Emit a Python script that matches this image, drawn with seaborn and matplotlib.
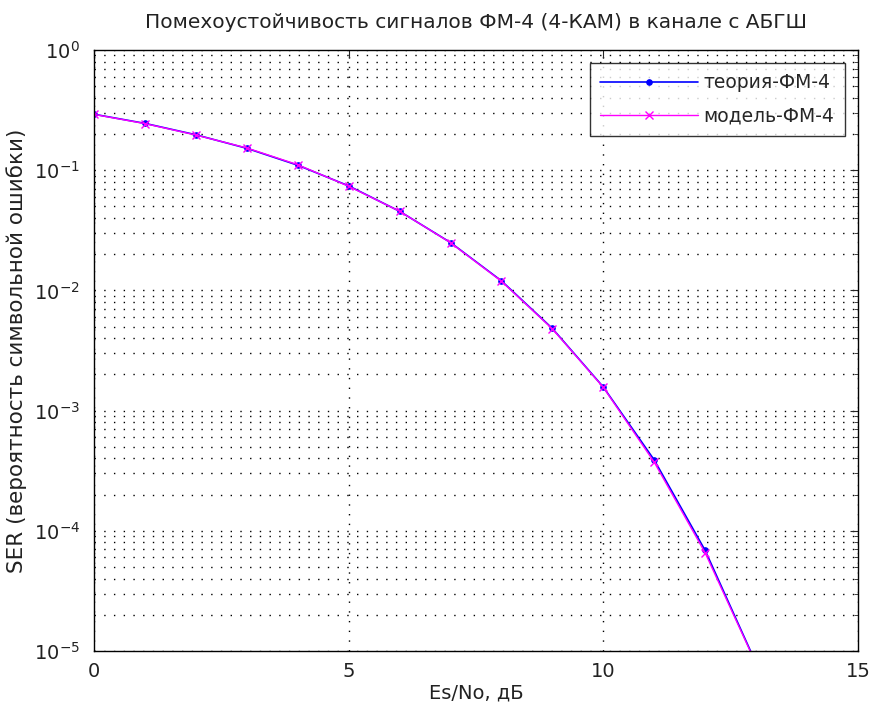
import numpy as np
import pandas as pd
import seaborn as sns
import matplotlib.pyplot as plt
from matplotlib.ticker import LogLocator, NullFormatter

# Es/No points (dB) and SER values
snr_db = [0, 1, 2, 3, 4, 5, 6, 7, 8, 9, 10, 11, 12, 13]
ser_theory = [0.292, 0.245, 0.197, 0.152, 0.110, 0.074, 0.0455, 0.0250,
              0.0120, 0.00482, 0.00157, 0.000388, 0.0000686, 0.0000079]
ser_model = [0.291, 0.244, 0.196, 0.153, 0.111, 0.0735, 0.0455, 0.0249,
             0.0119, 0.00478, 0.00156, 0.000372, 0.0000655, 0.0000078]

sns.set_style("white")
plt.rcParams['font.family'] = ['DejaVu Sans']
txt = '#222222'

df = pd.DataFrame({'snr': snr_db * 2,
                   'ser': ser_theory + ser_model,
                   'curve': ['теория-ФМ-4'] * len(snr_db) + ['модель-ФМ-4'] * len(snr_db)})

fig = plt.figure(figsize=(8.71, 7.11), dpi=100)
ax = fig.add_axes([0.108, 0.0844, 0.877, 0.8453])

sns.lineplot(data=df[df.curve == 'теория-ФМ-4'], x='snr', y='ser', color='blue',
             marker='o', markersize=4, markeredgecolor='blue', markerfacecolor='blue',
             linewidth=1.2, label='теория-ФМ-4', ax=ax)
sns.lineplot(data=df[df.curve == 'модель-ФМ-4'], x='snr', y='ser', color='magenta',
             marker='x', markersize=6, markeredgewidth=1, markeredgecolor='magenta',
             linewidth=1, label='модель-ФМ-4', ax=ax)

ax.set_yscale('log')
ax.set_xlim(0, 15)
ax.set_ylim(1e-5, 1)
ax.set_xticks([0, 5, 10, 15])
ax.yaxis.set_major_locator(LogLocator(base=10, numticks=10))
ax.yaxis.set_minor_locator(LogLocator(base=10, subs=np.arange(2, 10), numticks=20))
ax.yaxis.set_minor_formatter(NullFormatter())

dots = (0, (1, 6))
ax.grid(True, which='major', axis='both', linestyle=dots, color='black', linewidth=1)
ax.grid(True, which='minor', axis='y', linestyle=dots, color='black', linewidth=1)
ax.tick_params(which='both', direction='in', top=True, right=True, labelsize=14,
               labelcolor=txt)
ax.tick_params(axis='x', which='major', length=6, pad=8)
ax.tick_params(axis='y', which='major', length=6, pad=10)
ax.tick_params(which='minor', length=3)
for s in ax.spines.values():
    s.set_color('black')
    s.set_linewidth(1)

ax.set_title('Помехоустойчивость сигналов ФМ-4 (4-КАМ) в канале с АБГШ',
             fontsize=14.5, pad=16, color=txt)
ax.set_xlabel('Es/No, дБ', fontsize=14, labelpad=2, color=txt)
ax.set_ylabel('SER (вероятность символьной ошибки)', fontsize=15.5, labelpad=5, color=txt)

leg = ax.legend(loc='upper right', fontsize=13.5, frameon=True, fancybox=False,
                edgecolor='black', borderaxespad=0.7, handlelength=5.2,
                handletextpad=0.3, labelspacing=0.75, borderpad=0.55)
leg.get_frame().set_linewidth(1)

fig.savefig('out.png', dpi=100)
